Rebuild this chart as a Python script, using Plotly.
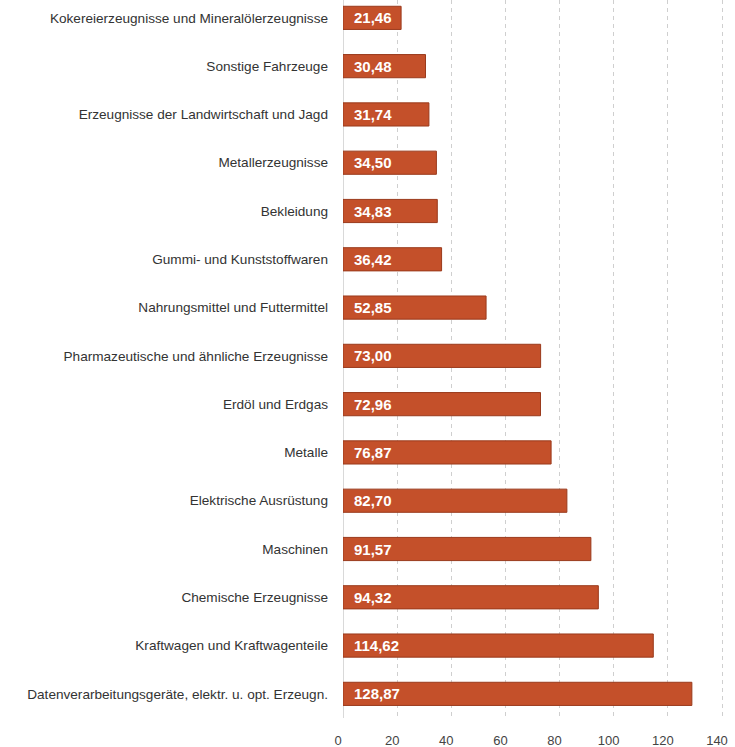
import plotly.graph_objects as go

# Categories, top to bottom
categories = [
    "Kokereierzeugnisse und Mineralölerzeugnisse",
    "Sonstige Fahrzeuge",
    "Erzeugnisse der Landwirtschaft und Jagd",
    "Metallerzeugnisse",
    "Bekleidung",
    "Gummi- und Kunststoffwaren",
    "Nahrungsmittel und Futtermittel",
    "Pharmazeutische und ähnliche Erzeugnisse",
    "Erdöl und Erdgas",
    "Metalle",
    "Elektrische Ausrüstung",
    "Maschinen",
    "Chemische Erzeugnisse",
    "Kraftwagen und Kraftwagenteile",
    "Datenverarbeitungsgeräte, elektr. u. opt. Erzeugn.",
]
values = [21.46, 30.48, 31.74, 34.50, 34.83, 36.42, 52.85, 73.00, 72.96,
          76.87, 82.70, 91.57, 94.32, 114.62, 128.87]
x_ticks = [0, 20, 40, 60, 80, 100, 120, 140]

W, H = 735, 747
ML, MR, MT, MB = 343, 6, 0, 29
px_per_unit = 379 / 140
x_max = (W - ML - MR) / px_per_unit

def de_fmt(v):
    return f"{v:.2f}".replace(".", ",")

fig = go.Figure()
fig.add_trace(go.Bar(
    x=values,
    y=list(range(len(categories))),
    orientation="h",
    width=0.48,
    marker=dict(color="#C4502A", line=dict(color="#9A3A1C", width=1)),
    hoverinfo="skip",
))

for i, v in enumerate(values):
    fig.add_annotation(
        x=0, y=i, xref="x", yref="y",
        text=f"<b>{de_fmt(v)}</b>",
        showarrow=False, xanchor="left", xshift=9,
        font=dict(family="Liberation Sans, Arial, sans-serif", size=15, color="white"),
    )

fig.update_layout(
    width=W, height=H,
    margin=dict(l=ML, r=MR, t=MT, b=MB),
    paper_bgcolor="white", plot_bgcolor="white",
    showlegend=False,
    bargap=0.5,
    font=dict(family="Liberation Sans, Arial, sans-serif", size=12, color="#333333"),
)
fig.update_xaxes(
    range=[0, x_max],
    tickvals=x_ticks,
    ticktext=[str(t) for t in x_ticks],
    showgrid=True, gridcolor="#CFCFCF", griddash="4px,4px", gridwidth=1,
    zeroline=True, zerolinecolor="#D9D9D9", zerolinewidth=1,
    showline=False, ticks="",
    tickfont=dict(size=13, color="#444444"),
    ticklabelshift=-5,
    ticklabelstandoff=13,
)
fig.update_yaxes(
    range=[14.5, -0.37],
    tickvals=list(range(len(categories))),
    ticktext=categories,
    showgrid=False, zeroline=False, showline=False, ticks="",
    tickfont=dict(size=13.6, color="#333333"),
    ticklabelstandoff=14,
)

fig.write_html("out.html")
